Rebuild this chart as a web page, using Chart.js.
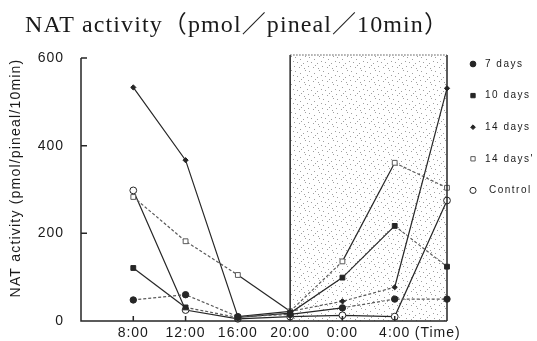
<!DOCTYPE html>
<html>
<head>
<meta charset="utf-8">
<script src="https://cdn.jsdelivr.net/npm/chart.js@4.4.1/dist/chart.umd.min.js"></script>
<style>
  html, body { margin: 0; padding: 0; background: #fff; }
  #nat-chart { display: block; }
</style>
</head>
<body>
<canvas id="nat-chart" width="537" height="341"></canvas>
<script>
// sampling clock (hours from midnight, next-day 8:00 = 32)
const hours = [8, 12, 16, 20, 24, 28, 32];
const timeLabels = ['8:00', '12:00', '16:00', '20:00', '0:00', '4:00', '8:00'];
const yTicks = [0, 200, 400, 600];

// NAT activity, pmol/pineal/10min
const days7 = [48, 60, 10, 15, 30, 50, 50];
const days10 = [121, 31, 8, 18, 99, 217, 124];
const days14 = [533, 367, 10, 22, 45, 77, 531];
const days14b = [283, 182, 105, 22, 136, 361, 304];
const control = [298, 25, 5, 10, 13, 10, 275];

// dark period
const nightStart = 20;
const nightEnd = 32;
const nightTop = 607;

const INK = '#262626';
const GREY = '#5a5a5a';

function toPoints(values) {
  return values.map((v, i) => ({ x: hours[i], y: v }));
}

// true = dashed segment (index of the segment start)
function dashed(pattern) {
  return { borderDash: ctx => pattern[ctx.p0DataIndex] ? [3, 2] : undefined,
           borderColor: ctx => pattern[ctx.p0DataIndex] ? GREY : undefined };
}

function series(label, values, style, dashPattern) {
  return Object.assign({
    label: label,
    data: toPoints(values),
    borderColor: INK,
    borderWidth: 1.2,
    tension: 0,
    clip: false,
    pointBorderColor: INK,
    pointBorderWidth: 1,
    segment: dashed(dashPattern)
  }, style);
}

const datasets = [
  series('7 days', days7, { pointStyle: 'circle', pointRadius: 3.2, pointBackgroundColor: INK },
    [1, 1, 1, 0, 1, 1]),
  series('10 days', days10, { pointStyle: 'rect', pointRadius: 3.4, pointBackgroundColor: INK },
    [0, 1, 0, 0, 0, 1]),
  series('14 days', days14, { pointStyle: 'rectRot', pointRadius: 2.6, pointBackgroundColor: INK },
    [0, 0, 0, 1, 1, 0]),
  series("14 days'", days14b, { pointStyle: 'rect', pointRadius: 3.4, pointBackgroundColor: '#fff',
    pointBorderColor: GREY }, [1, 1, 0, 1, 0, 1]),
  series('Control', control, { pointStyle: 'circle', pointRadius: 3.4, pointBackgroundColor: '#fff' },
    [0, 0, 0, 0, 0, 0])
];

// stipple used for the dark period
function stipple(ctx) {
  const tile = document.createElement('canvas');
  tile.width = 14;
  tile.height = 14;
  const t = tile.getContext('2d');
  t.fillStyle = '#a0a0a0';
  [[1, 1], [6, 3], [11, 0], [3, 6], [9, 7], [13, 5], [0, 10], [5, 11], [10, 12], [7, 9]]
    .forEach(p => t.fillRect(p[0], p[1], 1, 1));
  return ctx.createPattern(tile, 'repeat');
}

const frame = {
  id: 'frame',
  beforeDraw(chart) {
    chart.ctx.letterSpacing = '1px';
  },
  beforeDatasetsDraw(chart) {
    const { ctx, scales: { x, y } } = chart;
    const xs = x.getPixelForValue(nightStart);
    const xe = x.getPixelForValue(nightEnd);
    const yt = y.getPixelForValue(nightTop);
    const yb = y.getPixelForValue(0);
    ctx.save();
    ctx.fillStyle = stipple(ctx);
    ctx.fillRect(xs, yt, xe - xs, yb - yt);
    ctx.restore();
  },
  afterDatasetsDraw(chart) {
    const { ctx, chartArea, scales: { x, y } } = chart;
    const xs = x.getPixelForValue(nightStart);
    const xe = x.getPixelForValue(nightEnd);
    const yt = y.getPixelForValue(nightTop);
    const y0 = y.getPixelForValue(0);
    const yTop = y.getPixelForValue(600);
    const left = chartArea.left;

    ctx.save();
    ctx.strokeStyle = INK;
    ctx.lineWidth = 1.5;
    ctx.beginPath();
    // axes
    ctx.moveTo(left, yTop);
    ctx.lineTo(left, y0);
    ctx.lineTo(xe, y0);
    // dark period edges
    ctx.moveTo(xs, y0);
    ctx.lineTo(xs, yt);
    ctx.moveTo(xe, y0);
    ctx.lineTo(xe, yt);
    // inward ticks
    yTicks.slice(1).forEach(v => {
      const p = y.getPixelForValue(v);
      ctx.moveTo(left, p);
      ctx.lineTo(left + 6, p);
    });
    hours.slice(0, 6).forEach(h => {
      const p = x.getPixelForValue(h);
      ctx.moveTo(p, y0);
      ctx.lineTo(p, y0 - 5);
    });
    ctx.stroke();

    ctx.lineWidth = 1;
    ctx.strokeStyle = '#555';
    ctx.setLineDash([1.5, 1.5]);
    ctx.beginPath();
    ctx.moveTo(xs, yt);
    ctx.lineTo(xe, yt);
    ctx.stroke();
    ctx.restore();
  },
  afterDraw(chart) {
    const { ctx, scales: { x } } = chart;
    ctx.save();

    // title
    ctx.letterSpacing = '1.1px';
    ctx.fillStyle = '#1a1a1a';
    ctx.font = '24px "Liberation Serif", "Noto Sans CJK JP", serif';
    ctx.textAlign = 'left';
    ctx.textBaseline = 'alphabetic';
    ctx.fillText('NAT activity（pmol／pineal／10min）', 25, 32);

    // y axis title
    ctx.letterSpacing = '1.2px';
    ctx.font = '14px "Liberation Sans", Arial, sans-serif';
    ctx.textAlign = 'center';
    ctx.textBaseline = 'middle';
    ctx.save();
    ctx.translate(16, 178);
    ctx.rotate(-Math.PI / 2);
    ctx.fillText('NAT activity (pmol/pineal/10min)', 0, 0);
    ctx.restore();

    // unit after the last time label
    ctx.letterSpacing = '1px';
    ctx.textAlign = 'left';
    ctx.fillText('(Time)', x.getPixelForValue(28) + 20, 333);

    // legend
    ctx.letterSpacing = '1.5px';
    ctx.font = '10px "Liberation Sans", Arial, sans-serif';
    chart.data.datasets.forEach((ds, i) => {
      const ly = 64 + i * 31.6;
      ctx.fillStyle = ds.pointBackgroundColor;
      ctx.strokeStyle = ds.pointBorderColor;
      ctx.lineWidth = 1;
      ctx.setLineDash([]);
      Chart.helpers.drawPoint(ctx, {
        pointStyle: ds.pointStyle,
        radius: ds.pointRadius * 0.9,
        borderWidth: 1,
        rotation: 0
      }, 473, ly);
      ctx.fillStyle = '#1a1a1a';
      ctx.fillText(ds.label, i === 4 ? 489 : 485, ly);
    });
    ctx.restore();
    ctx.letterSpacing = '0px';
  }
};

new Chart(document.getElementById('nat-chart'), {
  type: 'line',
  data: { datasets: datasets },
  plugins: [frame],
  options: {
    responsive: false,
    animation: false,
    layout: { padding: { top: 55, right: 90, left: 0, bottom: 0 } },
    plugins: {
      legend: { display: false },
      tooltip: { enabled: false }
    },
    scales: {
      x: {
        type: 'linear',
        min: 4,
        max: 32,
        grid: { display: false, drawTicks: false },
        border: { display: false },
        afterBuildTicks: s => { s.ticks = hours.slice(0, 6).map(v => ({ value: v })); },
        afterFit: s => { s.height = 20; },
        ticks: {
          padding: 4,
          color: '#1a1a1a',
          font: { family: '"Liberation Sans", Arial, sans-serif', size: 14 },
          maxRotation: 0,
          callback: v => timeLabels[hours.indexOf(v)]
        }
      },
      y: {
        min: 0,
        max: nightTop,
        grid: { display: false },
        border: { display: false },
        afterBuildTicks: s => { s.ticks = yTicks.map(v => ({ value: v })); },
        afterFit: s => { s.width = 81; },
        ticks: {
          padding: 9,
          color: '#1a1a1a',
          font: { family: '"Liberation Sans", Arial, sans-serif', size: 14 }
        }
      }
    }
  }
});
</script>
</body>
</html>
